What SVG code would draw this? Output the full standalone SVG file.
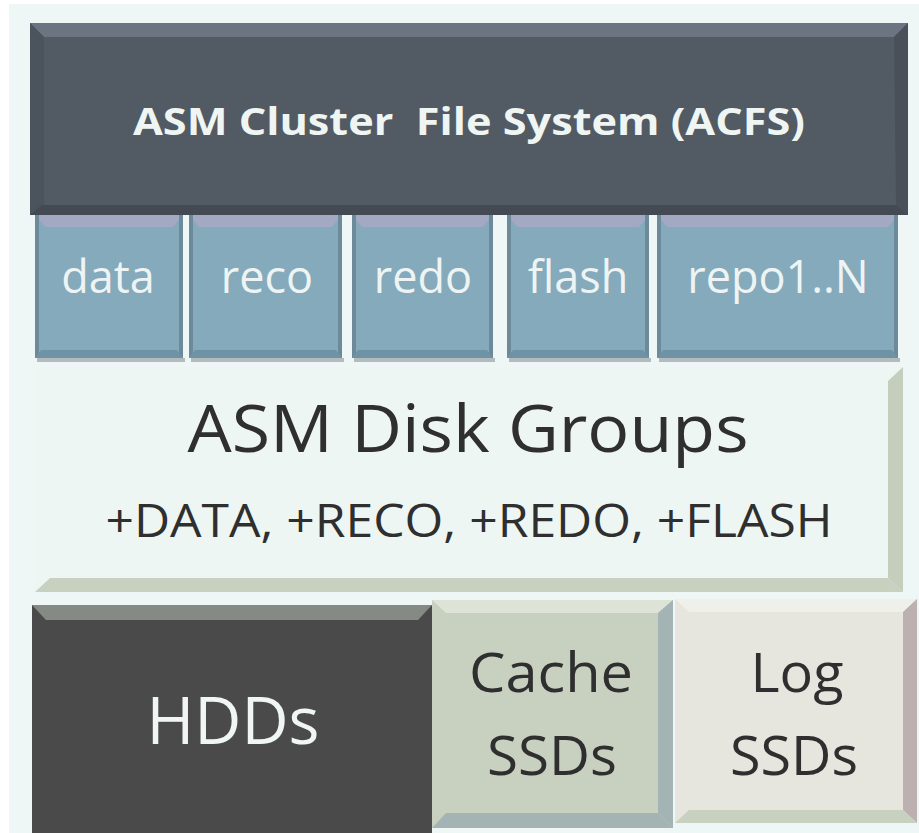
<svg xmlns="http://www.w3.org/2000/svg" width="919" height="833" viewBox="0 0 919 833">
<style>
text{font-family:"Open Sans","Liberation Sans",sans-serif;text-anchor:middle}
.lt{fill:#eef5f3}
.dk{fill:#2f2f2f}
.vol{fill:#84aabb}
.volTop{fill:#a3a9c2}
.volBot{fill:#6f93a6}
.volSide{fill:#6d8a9a}
.volShadow{fill:#9aa3a6;opacity:0.7}
.volText{font-size:45px;fill:#eef4f4}
</style>
<rect x="0" y="0" width="919" height="833" fill="#ffffff"/>
<rect x="9" y="4" width="910" height="829" fill="#eef6f6"/>

<g id="acfs">
<rect x="30" y="23" width="878" height="192" fill="#525a64"/>
<polygon points="30,23 908,23 894,37 44,37" fill="#6b7480"/>
<polygon points="30,23 44,37 44,205 30,215" fill="#4b535d"/>
<polygon points="908,23 894,37 896,205 908,215" fill="#48505a"/>
<polygon points="30,215 908,215 896,205 42,205" fill="#434a53"/>
<text x="469" y="135" font-size="38" font-weight="bold" class="lt" xml:space="preserve" textLength="672" lengthAdjust="spacingAndGlyphs">ASM Cluster  File System (ACFS)</text>
</g>

<g id="vol-data">
<rect class="volShadow" x="37" y="358" width="148" height="4"/>
<rect class="vol" x="35" y="215" width="148" height="143"/>
<polygon class="volTop" points="35,215 183,215 173,227 45,227"/>
<rect class="volSide" x="35" y="215" width="4" height="143"/>
<rect class="volSide" x="179" y="215" width="4" height="143"/>
<polygon class="volBot" points="35,358 183,358 177,350 41,350"/>
<text class="volText" x="108" y="293">data</text>
</g>

<g id="vol-reco">
<rect class="volShadow" x="191" y="358" width="153" height="4"/>
<rect class="vol" x="189" y="215" width="153" height="143"/>
<polygon class="volTop" points="189,215 342,215 332,227 199,227"/>
<rect class="volSide" x="189" y="215" width="4" height="143"/>
<rect class="volSide" x="338" y="215" width="4" height="143"/>
<polygon class="volBot" points="189,358 342,358 336,350 195,350"/>
<text class="volText" x="267" y="293">reco</text>
</g>

<g id="vol-redo">
<rect class="volShadow" x="354" y="358" width="141" height="4"/>
<rect class="vol" x="352" y="215" width="141" height="143"/>
<polygon class="volTop" points="352,215 493,215 483,227 362,227"/>
<rect class="volSide" x="352" y="215" width="4" height="143"/>
<rect class="volSide" x="489" y="215" width="4" height="143"/>
<polygon class="volBot" points="352,358 493,358 487,350 358,350"/>
<text class="volText" x="423" y="293">redo</text>
</g>

<g id="vol-flash">
<rect class="volShadow" x="509" y="358" width="142" height="4"/>
<rect class="vol" x="507" y="215" width="142" height="143"/>
<polygon class="volTop" points="507,215 649,215 639,227 517,227"/>
<rect class="volSide" x="507" y="215" width="4" height="143"/>
<rect class="volSide" x="645" y="215" width="4" height="143"/>
<polygon class="volBot" points="507,358 649,358 643,350 513,350"/>
<text class="volText" x="578" y="293">flash</text>
</g>

<g id="vol-repo">
<rect class="volShadow" x="659" y="358" width="241" height="4"/>
<rect class="vol" x="657" y="215" width="241" height="143"/>
<polygon class="volTop" points="657,215 898,215 888,227 667,227"/>
<rect class="volSide" x="657" y="215" width="4" height="143"/>
<rect class="volSide" x="894" y="215" width="4" height="143"/>
<polygon class="volBot" points="657,358 898,358 892,350 663,350"/>
<text class="volText" x="778" y="293">repo1..N</text>
</g>

<g id="disk-groups">
<rect x="35" y="367" width="868" height="225" fill="#eef6f4"/>
<polygon points="888,381 903,367 903,592 888,578" fill="#c5cdbd"/>
<polygon points="35,592 50,578 888,578 903,592" fill="#c8d0c0"/>
<text class="dk" x="468" y="452" font-size="66" textLength="561" lengthAdjust="spacingAndGlyphs">ASM Disk Groups</text>
<text class="dk" x="469" y="537" font-size="46" textLength="727" lengthAdjust="spacingAndGlyphs">+DATA, +RECO, +REDO, +FLASH</text>
</g>

<g id="hdds">
<rect x="32" y="605" width="400" height="228" fill="#4a4a4a"/>
<polygon points="32,605 432,605 418,620 46,620" fill="#858a84"/>
<text x="233" y="744" font-size="66" fill="#f0f6f4" textLength="173" lengthAdjust="spacingAndGlyphs">HDDs</text>
</g>

<g id="cache-ssds">
<rect x="432" y="600" width="241" height="228" fill="#c8d0c0"/>
<polygon points="432,600 673,600 658,613 446,613" fill="#dde3d6"/>
<polygon points="673,600 658,613 658,813 673,828" fill="#a4b4b4"/>
<polygon points="432,828 446,813 658,813 673,828" fill="#a4b4b4"/>
<text class="dk" x="551" y="692" font-size="55" textLength="164" lengthAdjust="spacingAndGlyphs">Cache</text>
<text class="dk" x="552" y="775" font-size="55" textLength="130" lengthAdjust="spacingAndGlyphs">SSDs</text>
</g>

<g id="log-ssds">
<rect x="675" y="599" width="242" height="224" fill="#e6e6de"/>
<polygon points="675,599 917,599 903,612 689,612" fill="#eff0ea"/>
<polygon points="917,599 903,612 903,810 917,823" fill="#bcb0b0"/>
<polygon points="675,823 689,810 903,810 917,823" fill="#c8d0c0"/>
<text class="dk" x="797" y="692" font-size="55" textLength="93" lengthAdjust="spacingAndGlyphs">Log</text>
<text class="dk" x="794" y="775" font-size="55" textLength="128" lengthAdjust="spacingAndGlyphs">SSDs</text>
</g>

<g id="connectors"/>
</svg>
